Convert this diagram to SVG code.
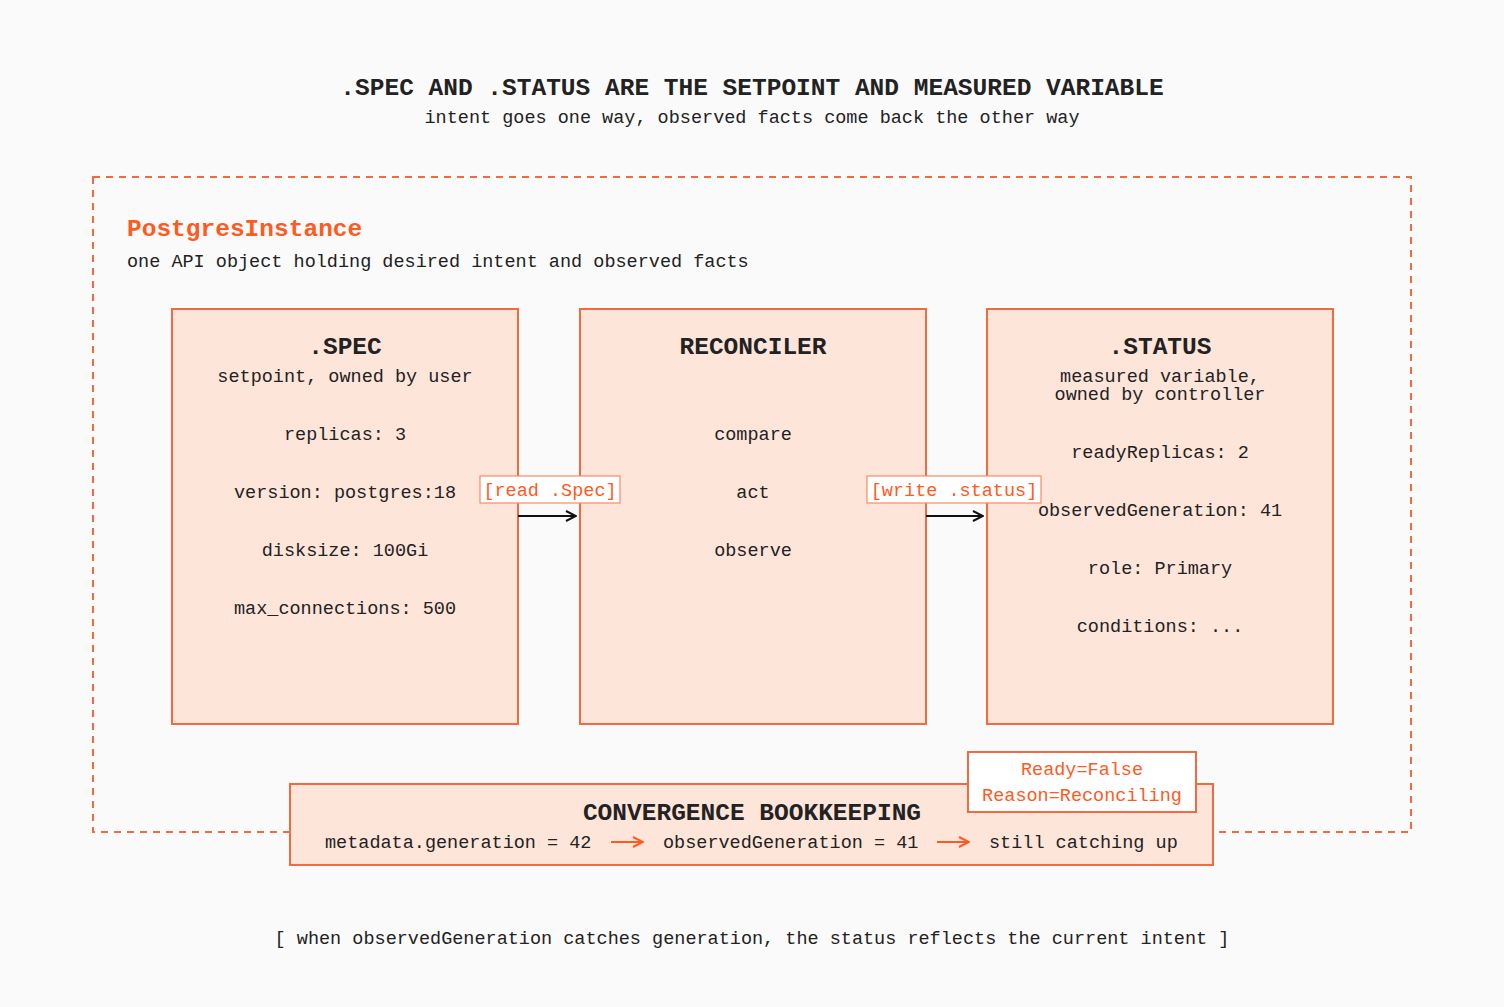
<svg xmlns="http://www.w3.org/2000/svg" width="1504" height="1007" viewBox="0 0 1504 1007">
<style>
text{font-family:"Liberation Mono","DejaVu Sans Mono",monospace;fill:#222;font-size:18.5px}
.h{font-weight:bold;font-size:24.5px}
.c{text-anchor:middle}
.o{fill:#ff5a1f}
.box{fill:#fee5d9;stroke:#f26a3f;stroke-width:2}
.tag{fill:#fff;stroke:#f58a66;stroke-width:1.2}
</style>
<defs>
<marker id="a" viewBox="0 0 12 12" refX="11" refY="6" markerWidth="12" markerHeight="12" markerUnits="userSpaceOnUse" orient="auto"><path d="M1 1L11 6L1 11" fill="none" stroke="#111" stroke-width="2"/></marker>
<marker id="ao" viewBox="0 0 12 12" refX="11" refY="6" markerWidth="12" markerHeight="12" markerUnits="userSpaceOnUse" orient="auto"><path d="M1 1L11 6L1 11" fill="none" stroke="#ff5a1f" stroke-width="2"/></marker>
</defs>
<rect width="1504" height="1007" fill="#fafafa"/>
<text class="h c" x="752" y="95">.SPEC AND .STATUS ARE THE SETPOINT AND MEASURED VARIABLE</text>
<text class="c" x="752" y="123">intent goes one way, observed facts come back the other way</text>
<g id="instance">
<rect x="93" y="177" width="1318" height="655" fill="none" stroke="#f26a3f" stroke-width="2" stroke-dasharray="7 6"/>
<text class="h o" x="127" y="236">PostgresInstance</text>
<text x="127" y="267">one API object holding desired intent and observed facts</text>
</g>
<g id="spec">
<rect class="box" x="172" y="309" width="346" height="415"/>
<text class="h c" x="345" y="354">.SPEC</text>
<text class="c" x="345" y="382">setpoint, owned by user</text>
<text class="c" x="345" y="440">replicas: 3</text>
<text class="c" x="345" y="498">version: postgres:18</text>
<text class="c" x="345" y="556">disksize: 100Gi</text>
<text class="c" x="345" y="614">max_connections: 500</text>
</g>
<g id="reconciler">
<rect class="box" x="580" y="309" width="346" height="415"/>
<text class="h c" x="753" y="354">RECONCILER</text>
<text class="c" x="753" y="440">compare</text>
<text class="c" x="753" y="498">act</text>
<text class="c" x="753" y="556">observe</text>
</g>
<g id="status">
<rect class="box" x="987" y="309" width="346" height="415"/>
<text class="h c" x="1160" y="354">.STATUS</text>
<text class="c" x="1160" y="382">measured variable,</text>
<text class="c" x="1160" y="400">owned by controller</text>
<text class="c" x="1160" y="458">readyReplicas: 2</text>
<text class="c" x="1160" y="516">observedGeneration: 41</text>
<text class="c" x="1160" y="574">role: Primary</text>
<text class="c" x="1160" y="632">conditions: ...</text>
</g>
<g id="connectors">
<line x1="518" y1="516" x2="576" y2="516" stroke="#111" stroke-width="2" marker-end="url(#a)"/>
<rect class="tag" x="480" y="476" width="140" height="27"/>
<text class="c o" x="550" y="496">[read .Spec]</text>
<line x1="926" y1="516" x2="983" y2="516" stroke="#111" stroke-width="2" marker-end="url(#a)"/>
<rect class="tag" x="867" y="476" width="174" height="27"/>
<text class="c o" x="954" y="496">[write .status]</text>
</g>
<g id="bookkeeping">
<rect class="box" x="290" y="784" width="923" height="81"/>
<text class="h c" x="752" y="820">CONVERGENCE BOOKKEEPING</text>
<text x="325" y="848">metadata.generation = 42</text>
<line x1="611" y1="842" x2="643" y2="842" stroke="#ff5a1f" stroke-width="2" marker-end="url(#ao)"/>
<text x="663" y="848">observedGeneration = 41</text>
<line x1="937" y1="842" x2="969" y2="842" stroke="#ff5a1f" stroke-width="2" marker-end="url(#ao)"/>
<text x="989" y="848">still catching up</text>
</g>
<g id="badge">
<rect x="968" y="752" width="228" height="60" fill="#fff" stroke="#f26a3f" stroke-width="2"/>
<text class="c o" x="1082" y="775">Ready=False</text>
<text class="c o" x="1082" y="801">Reason=Reconciling</text>
</g>
<text class="c" x="752" y="944">[ when observedGeneration catches generation, the status reflects the current intent ]</text>
</svg>
